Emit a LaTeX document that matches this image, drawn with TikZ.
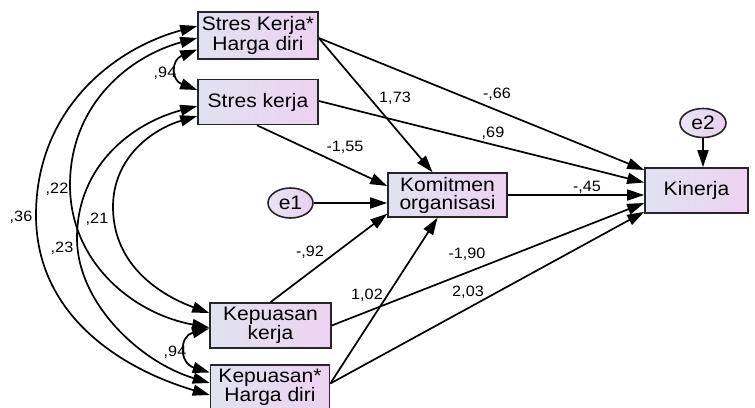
\documentclass[tikz,border=0pt]{standalone}
\usepackage{fontspec}
\setmainfont{Liberation Sans}[FakeStretch=1.08]
\usetikzlibrary{arrows.meta,calc,shapes.geometric}
\definecolor{boxL}{RGB}{224,226,240}
\definecolor{boxR}{RGB}{237,210,241}
\definecolor{ovalL}{RGB}{234,228,244}
\definecolor{ovalR}{RGB}{232,208,240}
\begin{document}
\begin{tikzpicture}[x=1pt,y=-1pt,
  var/.style={draw=black!85, line width=1.6pt, left color=boxL, right color=boxR,
    inner sep=0pt, align=center, font=\fontsize{19.5}{18}\selectfont},
  err/.style={ellipse, draw=black!85, line width=1.6pt, left color=ovalL, right color=ovalR,
    inner sep=0pt, minimum width=45pt, minimum height=30pt, font=\fontsize{19.5}{18}\selectfont},
  reg/.style={line width=1.7pt, -{Triangle[length=17pt,width=11pt]}},
  cov/.style={line width=1.7pt, {Triangle[length=17pt,width=11pt]}-{Triangle[length=17pt,width=11pt]}},
  lab/.style={inner sep=0pt, font=\fontsize{15}{15}\selectfont}]
\useasboundingbox (0,0) rectangle (755,407);
\clip (0,0) rectangle (755,407);
\fill[white] (0,0) rectangle (755,407);

% variables
\node[var, minimum width=120pt, minimum height=47pt] (skh) at (258,35.5) {Stres Kerja*\\Harga diri};
\node[var, minimum width=120pt, minimum height=45pt] (sk) at (258,102) {Stres kerja};
\node[var, minimum width=119pt, minimum height=44pt] (kom) at (447.5,195) {Komitmen\\organisasi};
\node[var, minimum width=103pt, minimum height=45pt] (kin) at (696.5,190.5) {Kinerja};
\node[var, minimum width=121pt, minimum height=45pt] (kk) at (270.5,325.5) {Kepuasan\\kerja};
\node[var, minimum width=119pt, minimum height=45pt] (khd) at (270,387.5) {Kepuasan*\\Harga diri};
\node[err] (e1) at (290.5,203) {e1};
\node[err, minimum width=46pt, minimum height=29pt] (e2) at (703,123) {e2};

% regression paths
\coordinate (skhR) at ($(skh.east)+(0,2.5)$);
\coordinate (khdR) at ($(khd.east)+(0,-4)$);
\draw[reg] (skhR) -- ($(kom.north)+(-15,0)$);
\draw[reg] (skhR) -- ($(kin.west)+(0,-20.5)$);
\draw[reg] ($(sk.east)+(0,-1)$) -- ($(kin.west)+(0,-8)$);
\draw[reg] ($(sk.south)+(-1,0)$) -- ($(kom.west)+(0,-9)$);
\draw[reg] (e1.east) -- (e1.east -| kom.west);
\draw[reg] (kom.east) -- (kom.east -| kin.west);
\draw[reg] (kk.north) -- ($(kom.south west)+(0,-4)$);
\draw[reg] (khdR) -- ($(kom.south)+(-10,0)$);
\draw[reg] (kk.east) -- ($(kin.west)+(0,12.5)$);
\draw[reg] (khdR) -- ($(kin.south west)+(0,-2)$);
\draw[reg] (e2.south) -- (e2.south |- kin.north);

% covariance end points
\coordinate (a36) at ($(skh.west)+(0,-9.5)$);
\coordinate (a22) at ($(skh.west)+(0,2.5)$);
\coordinate (a94) at ($(skh.west)+(0,14)$);
\coordinate (b94) at ($(sk.west)+(0,-12)$);
\coordinate (a23) at ($(sk.west)+(0,4)$);
\coordinate (a21) at ($(sk.west)+(0,14)$);
\coordinate (b21) at ($(kk.west)+(0,-12.5)$);
\coordinate (b22) at ($(kk.west)+(0,2)$);
\coordinate (c94) at ($(kk.west)+(0,3)$);
\coordinate (d94) at ($(khd.west)+(0,-15)$);
\coordinate (b23) at ($(khd.west)+(0,-4.5)$);
\coordinate (b36) at ($(khd.west)+(0,7.5)$);

% covariances
\draw[cov] (a36) .. controls (112,49) and (36,111) .. (36,215) .. controls (36,314) and (119,368) .. (b36);
\draw[cov] (a22) .. controls (130,56) and (70,104) .. (70,185) .. controls (70,263) and (134,314) .. (b22);
\draw[cov] (a23) .. controls (133,123) and (77,165) .. (77,238) .. controls (77,303) and (140,362) .. (b23);
\draw[cov] (a21) .. controls (153,129) and (113,157) .. (113,207) .. controls (113,265) and (160,295) .. (b21);
\draw[cov] (a94) .. controls (171,60) and (171,80) .. (b94);
\draw[cov] (c94) .. controls (179,336) and (179,363) .. (d94);

% labels
\node[lab] (l1) at (165,73) {,94};
\node[lab] (l2) at (175,352) {,94};
\node[lab] (l3) at (21,217) {,36};
\node[lab] (l4) at (57,189) {,22};
\node[lab] (l5) at (97,219) {,21};
\node[lab] (l6) at (62,248) {,23};
\node[lab] (l7) at (395,98) {1,73};
\node[lab] (l8) at (497,94) {-,66};
\node[lab] (l9) at (493,133) {,69};
\node[lab] (l10) at (345,147) {-1,55};
\node[lab] (l11) at (587,187) {-,45};
\node[lab] (l12) at (310,252) {-,92};
\node[lab] (l13) at (367,295) {1,02};
\node[lab] (l14) at (467,254) {-1,90};
\node[lab] (l15) at (468,292) {2,03};
\end{tikzpicture}
\end{document}
